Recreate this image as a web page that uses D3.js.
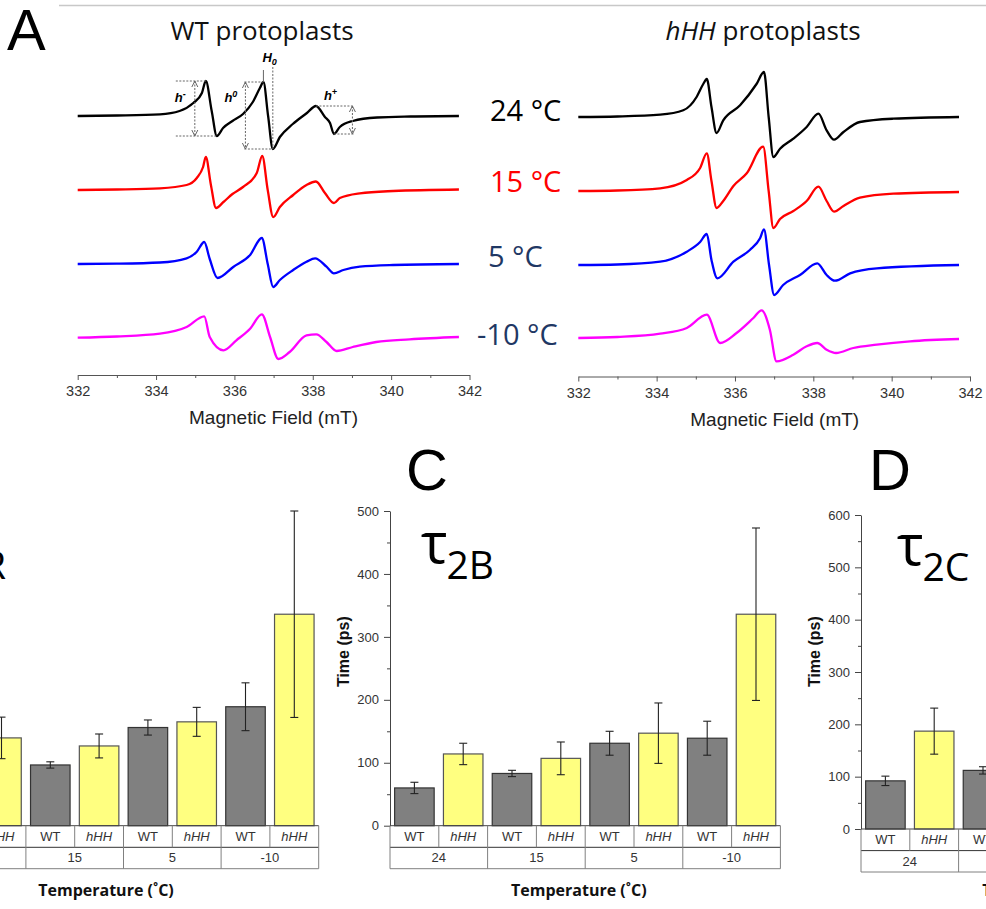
<!DOCTYPE html>
<html>
<head>
<meta charset="utf-8">
<script src="https://cdn.jsdelivr.net/npm/d3@7"></script>
<style>
  body { margin: 0; background: #fff; }
  svg { display: block; }
</style>
</head>
<body>
<svg id="fig" width="986" height="909"></svg>
<script>
// ---------- EPR spectra: [field (mT), signal (a.u.)] ----------
const fieldTicks = [332, 334, 336, 338, 340, 342];
const fieldMinorTicks = [333, 335, 337, 339, 341];
const tempLabels = ["24 °C", "15 °C", "5 °C", "-10 °C"];
const traceColors = ["#000000", "#ff0000", "#0000ff", "#ff00ff"];
const tempLabelColors = ["#000000", "#ff0000", "#1f3864", "#1f3864"];

const wt24 = [[332.0,0],[333.0,0.5],[334.1,1.7],[334.6,5],[334.95,13],[335.17,23],[335.27,35],[335.42,5],[335.55,-20],[335.71,-12],[335.95,-5],[336.22,2],[336.47,14],[336.65,28],[336.74,34],[336.86,0],[336.98,-33],[337.16,-21],[337.49,-8],[337.85,3],[338.08,10],[338.31,-1],[338.44,-7],[338.54,-18],[338.69,-11],[339.02,-5],[339.64,-1.5],[340.5,-0.5],[341.73,0]];
const wt15 = [[332.0,0],[333.0,0.5],[334.1,1.7],[334.78,5],[335.04,12],[335.2,23],[335.27,33],[335.4,5],[335.53,-18],[335.72,-12],[335.95,-4],[336.22,3],[336.57,17],[336.71,34],[336.85,0],[336.99,-27],[337.16,-17],[337.5,-5],[337.84,5],[338.08,8.5],[338.31,-3],[338.54,-13],[338.69,-8],[339.2,-3.3],[340.05,-1],[341.73,0.5]];
const wt5 = [[332.0,0],[333.0,0.3],[334.1,1.5],[334.78,5.7],[335.04,12.3],[335.23,22],[335.37,5],[335.57,-14],[335.97,-3],[336.4,9],[336.7,26],[336.85,0],[336.99,-23],[337.16,-16],[337.5,-6],[337.84,2.3],[338.06,5.7],[338.35,-2.7],[338.54,-9.3],[338.78,-6],[339.2,-2.7],[340.05,-1],[341.73,0]];
const wtm10 = [[332.0,-0.7],[333.0,0.5],[334.1,3.3],[334.78,10],[335.23,20.7],[335.37,0],[335.72,-13.3],[336.05,-3.3],[336.4,8.3],[336.7,22.7],[336.91,0],[337.12,-22],[337.41,-15],[337.84,1.7],[338.09,2.7],[338.35,-5],[338.61,-14],[339.02,-10],[339.62,-5],[340.47,-2.3],[341.73,0]];

const hh24 = [[332.0,0],[333.0,0.5],[334.09,2.3],[334.68,6.7],[335.02,20],[335.19,33],[335.28,38],[335.4,10],[335.53,-16],[335.7,-3.3],[336.13,11.7],[336.55,33],[336.74,45],[336.86,0],[336.98,-40],[337.15,-31.7],[337.49,-21.7],[337.83,-10],[338.13,3.3],[338.34,-13.3],[338.53,-22.7],[338.77,-15],[339.19,-5],[340.04,-1.7],[341.72,0]];
const hh15 = [[332.0,0],[333.0,0.5],[334.09,2.7],[334.77,11],[335.11,23],[335.28,37.7],[335.4,10],[335.53,-17],[335.7,-10],[335.96,5],[336.3,17.7],[336.72,44.3],[336.86,0],[336.98,-37],[337.15,-28],[337.49,-20],[337.83,-10],[338.13,4.3],[338.34,-10],[338.53,-20.7],[338.77,-15],[339.19,-6.7],[340.04,-2.7],[341.72,-1]];
const hh5 = [[332.0,0],[333.0,0.5],[334.09,3.3],[334.77,13.3],[335.11,23],[335.28,31],[335.4,5],[335.55,-13.3],[335.96,3.3],[336.38,15],[336.64,26.7],[336.74,35.7],[336.87,0],[337.0,-30],[337.23,-20],[337.66,-10],[338.1,1.7],[338.34,-10],[338.55,-15.7],[338.94,-8.3],[339.62,-3.3],[341.72,0]];
const hhm10 = [[332.0,0],[333.0,1],[334.09,4.3],[334.77,10],[335.28,23.3],[335.62,-5],[336.04,5],[336.47,20],[336.68,27.7],[336.89,8.3],[337.06,-23.3],[337.49,-16.7],[337.83,-8.3],[338.1,-5],[338.34,-11.7],[338.58,-15],[339.02,-10],[339.62,-6.7],[340.47,-3.3],[341.72,-1]];

const wtSpectra = [wt24, wt15, wt5, wtm10];
const hhSpectra = [hh24, hh15, hh5, hhm10];
const rowOffsets = [0, 74, 148, 221];

// ---------- correlation times (ps): order 24, 15, 5, -10 °C ----------
const barTemps = ["24", "15", "5", "-10"];
const genotypes = ["WT", "hHH"];

const tauR_WT = [105, 96.5, 156, 189];
const tauR_WTerr = [10, 5, 12, 38];
const tauR_hHH = [139.5, 126.7, 165, 336];
const tauR_hHHerr = [33, 19, 23, 164];

const tau2B_WT = [60, 83, 131, 139];
const tau2B_WTerr = [9, 5, 19, 27];
const tau2B_hHH = [114, 107, 147, 336];
const tau2B_hHHerr = [17, 26, 48, 137];

const tau2C_WT = [92, 112, 140, 160];
const tau2C_WTerr = [9, 7, 15, 30];
const tau2C_hHH = [187, 170, 200, 380];
const tau2C_hHHerr = [44, 30, 40, 150];

const svg = d3.select("#fig");
const SANS = "'Liberation Sans', Arial, sans-serif";
const TITLE = "'Open Sans', sans-serif";

// header rule and panel letters
svg.append("line").attr("x1", 59).attr("x2", 986).attr("y1", 5.5).attr("y2", 5.5)
  .attr("stroke", "#c8c8c8").attr("stroke-width", 1.5);
function letter(t, x, y) {
  svg.append("text").attr("x", x).attr("y", y).text(t)
    .attr("font-family", SANS).attr("font-size", 58).attr("fill", "#000");
}
letter("A", 7, 50);
letter("C", 406, 490);
letter("D", 869, 490);

// ---------- spectra panels ----------
function spectrumPanel(spectra, xRange, base0, axisY, labelX) {
  const g = svg.append("g");
  const x = d3.scaleLinear().domain([332, 342]).range(xRange);
  const y = d3.scaleLinear().domain([-300, 50]).range([base0 + 300, base0 - 50]);
  spectra.forEach((s, i) => {
    const line = d3.line()
      .x(d => x(d[0]))
      .y(d => y(d[1] - rowOffsets[i]))
      .curve(d3.curveMonotoneX);
    g.append("path").attr("d", line(s)).attr("fill", "none")
      .attr("stroke", traceColors[i]).attr("stroke-width", 2.3)
      .attr("stroke-linejoin", "round");
  });
  const ax = g.append("g").attr("transform", `translate(0,${axisY})`)
    .call(d3.axisBottom(x).tickValues(fieldTicks).tickSize(5).tickSizeOuter(0)
      .tickPadding(6).tickFormat(d3.format("d")));
  ax.select(".domain").attr("stroke", "#555");
  ax.selectAll(".tick line").attr("stroke", "#555");
  ax.selectAll("text").attr("font-family", SANS).attr("font-size", 14.5).attr("fill", "#333");
  const mn = g.append("g").attr("transform", `translate(0,${axisY})`)
    .call(d3.axisBottom(x).tickValues(fieldMinorTicks).tickSize(3).tickFormat(""));
  mn.select(".domain").remove();
  mn.selectAll(".tick line").attr("stroke", "#555");
  g.append("text").attr("x", labelX).attr("y", axisY + 49).attr("text-anchor", "middle")
    .attr("font-family", SANS).attr("font-size", 19).attr("fill", "#222")
    .text("Magnetic Field (mT)");
  return { x, y };
}

const left = spectrumPanel(wtSpectra, [77.7, 469.5], 116, 375, 273.5);
const right = spectrumPanel(hhSpectra, [578.3, 970], 117, 376.5, 774.7);

// panel titles
svg.append("text").attr("x", 262).attr("y", 39.5).attr("text-anchor", "middle")
  .attr("font-family", TITLE).attr("font-size", 26).attr("fill", "#111").text("WT protoplasts");
const ht = svg.append("text").attr("x", 763).attr("y", 39.5).attr("text-anchor", "middle")
  .attr("font-family", TITLE).attr("font-size", 26).attr("fill", "#111");
ht.append("tspan").attr("font-style", "italic").text("hHH");
ht.append("tspan").text(" protoplasts");

// temperature labels between the panels
const tempLabelX = [490, 490, 488, 477];
const tempLabelY = [120.7, 191.7, 266.7, 345];
tempLabels.forEach((t, i) => {
  svg.append("text").attr("x", tempLabelX[i]).attr("y", tempLabelY[i])
    .attr("font-family", TITLE).attr("font-size", 29).attr("fill", tempLabelColors[i]).text(t);
});

// line-height annotations on the 24 °C WT spectrum
(function annotate() {
  const { x, y } = left;
  const inRange = (lo, hi) => wt24.filter(d => d[0] >= lo && d[0] <= hi);
  const hi = (lo, h) => d3.greatest(inRange(lo, h), d => d[1]);
  const lo = (l, h) => d3.least(inRange(l, h), d => d[1]);
  const p1 = hi(335.0, 335.5), t1 = lo(335.4, 335.8);
  const p2 = hi(336.5, 336.9), t2 = lo(336.9, 337.1);
  const p3 = hi(337.9, 338.2), t3 = lo(338.4, 338.7);
  const P = d => [x(d[0]), y(d[1])];
  const g = svg.append("g").attr("stroke", "#666").attr("stroke-width", 1).attr("fill", "none");
  const dash = (x1, y1, x2, y2) => g.append("line").attr("x1", x1).attr("y1", y1)
    .attr("x2", x2).attr("y2", y2).attr("stroke-dasharray", "2,1.5");
  const arrow = (ax, y1, y2) => {
    dash(ax, y1, ax, y2);
    g.append("path").attr("d", `M${ax - 3},${y1 + 6}L${ax},${y1}L${ax + 3},${y1 + 6}`);
    g.append("path").attr("d", `M${ax - 3},${y2 - 6}L${ax},${y2}L${ax + 3},${y2 - 6}`);
  };
  const [p1x, p1y] = P(p1), [t1x, t1y] = P(t1);
  const [p2x, p2y] = P(p2), [t2x, t2y] = P(t2);
  const [p3x, p3y] = P(p3), [t3x, t3y] = P(t3);
  // h-
  dash(p1x - 30, p1y, p1x, p1y);
  dash(p1x - 30, t1y, t1x, t1y);
  arrow(p1x - 11, p1y, t1y);
  // h0
  dash(p2x - 19, p2y, p2x, p2y);
  dash(p2x - 19, t2y, t2x, t2y);
  arrow(p2x - 18, p2y, t2y);
  // H0 markers
  g.append("line").attr("x1", p2x).attr("x2", p2x).attr("y1", p2y - 12).attr("y2", p2y);
  dash(t2x, p2y - 15, t2x, t2y);
  // h+
  dash(p3x, p3y, p3x + 38, p3y);
  dash(t3x, t3y, p3x + 38, t3y);
  arrow(p3x + 36.5, p3y, t3y);

  const lab = (xx, yy, main, sup, isSub) => {
    const t = svg.append("text").attr("x", xx).attr("y", yy)
      .attr("font-family", SANS).attr("font-size", 13).attr("font-weight", "bold")
      .attr("font-style", "italic").attr("fill", "#000");
    t.append("tspan").text(main);
    t.append("tspan").attr("font-size", 9).attr("dy", isSub ? 3 : -5).text(sup);
  };
  lab(p1x - 31, 101.5, "h", "-");
  lab(p2x - 39, 101.5, "h", "0");
  lab(p3x + 8, 100, "h", "+");
  lab(p2x - 1, 62, "H", "0", true);
})();

// ---------- bar panels ----------
function barPanel(o) {
  const g = svg.append("g");
  const cats = [];
  barTemps.forEach(t => genotypes.forEach(gn => cats.push(gn + "|" + t)));
  const cell = 48.8;
  const x = d3.scaleBand().domain(cats).range([o.axisX, o.axisX + cats.length * cell])
    .paddingInner(0.19).paddingOuter(0.095);
  const y = d3.scaleLinear().domain([0, o.yMax]).range([o.y0, o.yTop]);
  const rows = [];
  barTemps.forEach((t, i) => {
    rows.push({ c: "WT|" + t, v: o.wt[i], e: o.wtErr[i], fill: "#808080", stroke: "#333" });
    rows.push({ c: "hHH|" + t, v: o.hh[i], e: o.hhErr[i], fill: "#ffff80", stroke: "#555" });
  });
  g.selectAll("rect.bar").data(rows).join("rect").attr("class", "bar")
    .attr("x", d => x(d.c)).attr("width", x.bandwidth())
    .attr("y", d => y(d.v)).attr("height", d => y(0) - y(d.v))
    .attr("fill", d => d.fill).attr("stroke", d => d.stroke).attr("stroke-width", 1.2);
  // error bars
  const eb = g.selectAll("g.err").data(rows).join("g").attr("class", "err")
    .attr("stroke", "#222").attr("stroke-width", 1.1);
  eb.append("line").attr("x1", d => x(d.c) + x.bandwidth() / 2).attr("x2", d => x(d.c) + x.bandwidth() / 2)
    .attr("y1", d => y(d.v - d.e)).attr("y2", d => y(d.v + d.e));
  eb.append("line").attr("x1", d => x(d.c) + x.bandwidth() / 2 - 4).attr("x2", d => x(d.c) + x.bandwidth() / 2 + 4)
    .attr("y1", d => y(d.v + d.e)).attr("y2", d => y(d.v + d.e));
  eb.append("line").attr("x1", d => x(d.c) + x.bandwidth() / 2 - 4).attr("x2", d => x(d.c) + x.bandwidth() / 2 + 4)
    .attr("y1", d => y(d.v - d.e)).attr("y2", d => y(d.v - d.e));

  // y axis with major and minor ticks
  const ya = g.append("g").attr("transform", `translate(${o.axisX},0)`)
    .call(d3.axisLeft(y).tickValues(d3.range(0, o.yMax + 1, 100)).tickSize(6).tickSizeOuter(0).tickPadding(5));
  ya.select(".domain").attr("stroke", "#444");
  ya.selectAll(".tick line").attr("stroke", "#444");
  ya.selectAll("text").attr("font-family", SANS).attr("font-size", 13).attr("fill", "#333");
  const ym = g.append("g").attr("transform", `translate(${o.axisX},0)`)
    .call(d3.axisLeft(y).tickValues(d3.range(50, o.yMax, 100)).tickSize(3).tickFormat(""));
  ym.select(".domain").remove();
  ym.selectAll(".tick line").attr("stroke", "#444");
  g.append("text").attr("transform", `translate(${o.axisX - 47},651.7) rotate(-90)`)
    .attr("text-anchor", "middle").attr("dominant-baseline", "central")
    .attr("font-family", SANS).attr("font-size", 16).attr("font-weight", "bold").attr("fill", "#111")
    .text("Time (ps)");

  // category table under the bars
  const r1 = o.y0 + 21.6, r2 = o.y0 + 43;
  const xEnd = o.axisX + cats.length * cell;
  const tg = g.append("g").attr("stroke", "#808080").attr("stroke-width", 1);
  tg.append("line").attr("x1", o.axisX).attr("x2", xEnd).attr("y1", o.y0).attr("y2", o.y0).attr("stroke", "#444");
  tg.append("line").attr("x1", o.axisX).attr("x2", xEnd).attr("y1", r1).attr("y2", r1).attr("stroke", "#333");
  tg.append("line").attr("x1", o.axisX).attr("x2", xEnd).attr("y1", r2).attr("y2", r2);
  d3.range(cats.length + 1).forEach(i => {
    const xx = o.axisX + i * cell;
    tg.append("line").attr("x1", xx).attr("x2", xx).attr("y1", o.y0).attr("y2", i % 2 === 0 ? r2 : r1);
  });
  cats.forEach(c => {
    const [gn] = c.split("|");
    g.append("text").attr("x", x(c) + x.bandwidth() / 2).attr("y", o.y0 + 15)
      .attr("text-anchor", "middle").attr("font-family", SANS).attr("font-size", 13)
      .attr("font-style", gn === "hHH" ? "italic" : "normal").attr("fill", "#333").text(gn);
  });
  barTemps.forEach((t, i) => {
    g.append("text").attr("x", o.axisX + (i * 2 + 1) * cell).attr("y", r1 + 15)
      .attr("text-anchor", "middle").attr("font-family", SANS).attr("font-size", 13)
      .attr("fill", "#333").text(t);
  });
  g.append("text").attr("x", o.tempX).attr("y", 896).attr("text-anchor", "middle")
    .attr("font-family", TITLE).attr("font-size", 16).attr("font-weight", "bold").attr("fill", "#111")
    .text("Temperature (˚C)");

  // tau symbol with subscript
  const tau = g.append("text").attr("y", o.tauY).attr("font-family", TITLE)
    .attr("font-size", 56).attr("fill", "#000").text("τ");
  const sub = g.append("text").attr("y", o.tauY + 16).attr("font-family", TITLE)
    .attr("font-size", 39).attr("fill", "#000").text(o.sub);
  if (o.subEnd !== undefined) {
    const sw = sub.node().getComputedTextLength();
    const tw = tau.node().getComputedTextLength();
    sub.attr("x", o.subEnd - sw);
    tau.attr("x", o.subEnd - sw - tw + 1);
  } else {
    tau.attr("x", o.tauX);
    sub.attr("x", o.tauX + tau.node().getComputedTextLength() - 1);
  }
}

barPanel({ axisX: -71.7, y0: 825.7, yTop: 511, yMax: 500,
  wt: tauR_WT, wtErr: tauR_WTerr, hh: tauR_hHH, hhErr: tauR_hHHerr,
  tempX: 106, sub: "R", subEnd: 6, tauY: 563 });
barPanel({ axisX: 390, y0: 825.7, yTop: 511, yMax: 500,
  wt: tau2B_WT, wtErr: tau2B_WTerr, hh: tau2B_hHH, hhErr: tau2B_hHHerr,
  tempX: 578.8, sub: "2B", tauX: 421, tauY: 563 });
barPanel({ axisX: 861, y0: 829, yTop: 515, yMax: 600,
  wt: tau2C_WT, wtErr: tau2C_WTerr, hh: tau2C_hHH, hhErr: tau2C_hHHerr,
  tempX: 1050, sub: "2C", tauX: 897, tauY: 565 });
</script>
</body>
</html>
